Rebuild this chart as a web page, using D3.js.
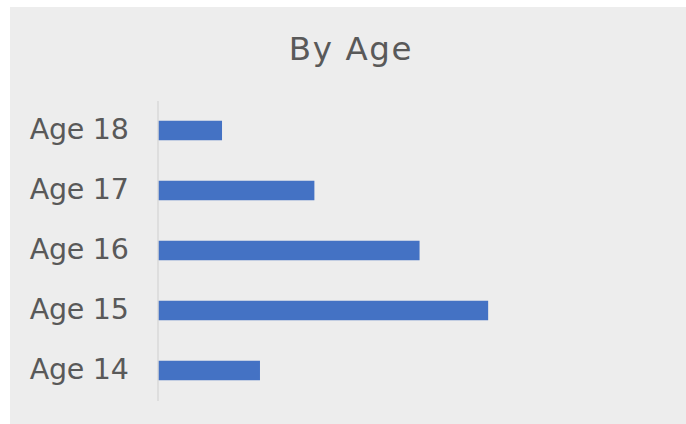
<!DOCTYPE html>
<html>
<head>
<meta charset="utf-8">
<script src="https://cdn.jsdelivr.net/npm/d3@7"></script>
<style>
  html, body { margin: 0; padding: 0; background: #ffffff; }
  svg { display: block; }
</style>
</head>
<body>
<svg id="chart" width="686" height="424"></svg>
<script>
// Share of respondents by age (%)
const title = "By Age";
const categories = ["Age 18", "Age 17", "Age 16", "Age 15", "Age 14"];
const values = [7.0, 17.1, 28.6, 36.1, 11.15];

const svg = d3.select("#chart");
const font = "'DejaVu Sans', sans-serif";
const textColor = "#595959";

// chart background
svg.append("rect")
  .attr("x", 10).attr("y", 7)
  .attr("width", 676).attr("height", 417)
  .attr("fill", "#ededed");

const x = d3.scaleLinear().domain([0, 55]).range([158, 661]);
const y = d3.scaleBand()
  .domain(categories)
  .range([100.5, 400.5])
  .paddingInner(0.675)
  .paddingOuter(0.3375);

// bars
svg.append("g")
  .selectAll("rect")
  .data(categories.map((c, i) => ({ c, v: values[i] })))
  .join("rect")
  .attr("x", x(0))
  .attr("y", d => y(d.c))
  .attr("width", d => x(d.v) - x(0))
  .attr("height", y.bandwidth())
  .attr("fill", "#4472c4");

// category axis
const axis = svg.append("g")
  .attr("transform", `translate(${x(0) - 0.5},0)`)
  .call(d3.axisLeft(y).tickSize(0).tickPadding(29).tickSizeOuter(0));
axis.select(".domain")
  .attr("stroke", "#d9d9d9")
  .attr("stroke-width", 1.5);
axis.selectAll(".tick text")
  .attr("font-family", font)
  .attr("font-size", 28.5)
  .attr("fill", textColor)
  .attr("dy", null)
  .attr("y", 8)
  .attr("letter-spacing", -0.3);

// title
svg.append("text")
  .attr("x", 351)
  .attr("y", 59.5)
  .attr("text-anchor", "middle")
  .attr("font-family", font)
  .attr("font-size", 32.5)
  .attr("letter-spacing", 1.6)
  .attr("fill", textColor)
  .text(title);
</script>
</body>
</html>
